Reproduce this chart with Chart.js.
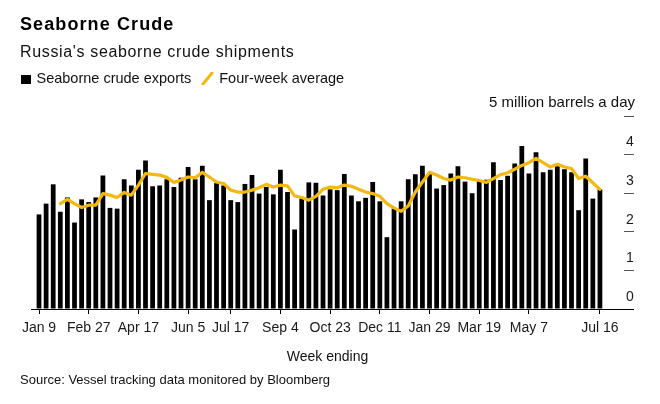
<!DOCTYPE html>
<html>
<head>
<meta charset="utf-8">
<script src="https://cdn.jsdelivr.net/npm/chart.js@4.4.0/dist/chart.umd.min.js"></script>
<style>
body { margin: 0; background: #fff; font-family: "Liberation Sans", Arial, sans-serif; color: #000; }
#wrap { position: relative; width: 660px; height: 404px; overflow: hidden; }
#wrap canvas { position: absolute; left: 0; top: 0; }
.txt { position: absolute; white-space: nowrap; }
#title { left: 20px; top: 15px; font-size: 18px; line-height: 18px; font-weight: bold; letter-spacing: 1.1px; }
#subtitle { left: 20px; top: 44px; font-size: 16px; line-height: 16px; letter-spacing: 0.65px; color: #111; }
#legend { left: 21px; top: 71px; font-size: 14.5px; line-height: 14.5px; color: #111; }
#legend .sq { display: inline-block; width: 9.5px; height: 9.5px; background: #000; margin-right: 6px; vertical-align: -1px; }
#legend svg { vertical-align: -2px; margin: 0 5px 0 10px; }
#unit { right: 25px; top: 94px; font-size: 15px; line-height: 15px; color: #111; }
#source { left: 20px; top: 373px; font-size: 13px; line-height: 13px; color: #111; }
</style>
</head>
<body>
<div id="wrap">
  <canvas id="myChart" width="660" height="404"></canvas>
  <div class="txt" id="title">Seaborne Crude</div>
  <div class="txt" id="subtitle">Russia's seaborne crude shipments</div>
  <div class="txt" id="legend"><span class="sq"></span>Seaborne crude exports<svg width="13" height="13"><line x1="2" y1="12" x2="11" y2="1" stroke="#f4b910" stroke-width="3" stroke-linecap="round"/></svg>Four-week average</div>
  <div class="txt" id="unit">5 million barrels a day</div>
  <div class="txt" id="source">Source: Vessel tracking data monitored by Bloomberg</div>
</div>
<script>
// weeks run from Jan 9 2022 to Jul 16 2023, one bar per week
const tickLabels = ["Jan 9", "Feb 27", "Apr 17", "Jun 5", "Jul 17", "Sep 4", "Oct 23", "Dec 11", "Jan 29", "Mar 19", "May 7", "Jul 16"];
const tickWeeks = [0, 7, 14, 21, 27, 34, 41, 48, 55, 62, 69, 79];

// million barrels a day
const exports = [
  2.45, 2.73, 3.23, 2.52, 2.89, 2.24, 2.84, 2.77, 2.89, 3.46,
  2.62, 2.60, 3.36, 3.20, 3.61, 3.85, 3.18, 3.20, 3.36, 3.16,
  3.40, 3.68, 3.36, 3.71, 2.82, 3.26, 3.20, 2.82, 2.77, 3.24,
  3.47, 2.99, 3.16, 2.97, 3.61, 3.03, 2.06, 2.86, 3.28, 3.27,
  2.94, 3.10, 3.08, 3.50, 2.94, 2.79, 2.88, 3.29, 2.79, 1.86,
  2.60, 2.79, 3.36, 3.49, 3.71, 3.50, 3.12, 3.21, 3.51, 3.70,
  3.30, 3.00, 3.33, 3.35, 3.80, 3.34, 3.45, 3.77, 4.22, 3.51,
  4.06, 3.54, 3.61, 3.70, 3.62, 3.54, 2.56, 3.90, 2.86, 3.10
];
const fourWeekAvg = [
  null, null, null, 2.73, 2.84, 2.73, 2.63, 2.69, 2.69, 2.99,
  2.95, 2.89, 3.02, 2.95, 3.21, 3.51, 3.49, 3.47, 3.41, 3.28,
  3.34, 3.42, 3.40, 3.54, 3.42, 3.29, 3.25, 3.08, 3.03, 3.03,
  3.08, 3.14, 3.23, 3.16, 3.21, 3.19, 2.93, 2.89, 2.82, 2.92,
  3.10, 3.16, 3.14, 3.21, 3.18, 3.10, 3.03, 2.99, 2.92, 2.73,
  2.62, 2.53, 2.67, 3.03, 3.29, 3.54, 3.47, 3.38, 3.34, 3.42,
  3.40, 3.36, 3.33, 3.28, 3.38, 3.48, 3.53, 3.62, 3.72, 3.79,
  3.90, 3.79, 3.68, 3.75, 3.68, 3.64, 3.38, 3.44, 3.27, 3.10
];
const yTicks = [0, 1, 2, 3, 4, 5];

Chart.defaults.font.family = '"Liberation Sans", Arial, sans-serif';
Chart.defaults.color = "#1a1a1a";

const barData = exports.map((v, i) => ({ x: i, y: v }));
const avgData = [];
fourWeekAvg.forEach((v, i) => { if (v != null) avgData.push({ x: i, y: v }); });

const ctx = document.getElementById("myChart");
new Chart(ctx, {
  type: "bar",
  data: {
    datasets: [{
      label: "Four-week average",
      type: "line",
      data: avgData,
      borderColor: "#f4b910",
      borderWidth: 3.2,
      pointRadius: 0,
      borderJoinStyle: "round",
      borderCapStyle: "round",
      tension: 0,
      order: 0
    }, {
      label: "Seaborne crude exports",
      data: barData,
      backgroundColor: "#000",
      barPercentage: 0.67,
      categoryPercentage: 1,
      order: 1
    }]
  },
  options: {
    responsive: false,
    animation: false,
    layout: { padding: { left: 31, right: 0, top: 116, bottom: 38.4 } },
    plugins: { legend: { display: false }, tooltip: { enabled: false } },
    scales: {
      x: {
        type: "linear",
        min: -1.127,
        max: 82.39,
        offset: false,
        afterBuildTicks: (scale) => { scale.ticks = tickWeeks.map(w => ({ value: w })); },
        ticks: {
          autoSkip: false,
          maxRotation: 0,
          padding: 6,
          font: { size: 14 },
          callback: (v) => tickLabels[tickWeeks.indexOf(v)]
        },
        grid: { drawOnChartArea: false, drawTicks: true, tickLength: 5, color: "#000", offset: false },
        border: { display: true, color: "#000", width: 1 },
        title: { display: true, text: "Week ending", font: { size: 14 }, color: "#111", padding: { top: 6, bottom: 0 } }
      },
      y: {
        position: "right",
        min: 0,
        max: 5,
        afterBuildTicks: (scale) => { scale.ticks = yTicks.map(v => ({ value: v })); },
        afterFit: (scale) => { scale.width = 36; },
        ticks: {
          padding: -8,
          labelOffset: -12,
          font: { size: 14 },
          callback: (v) => v === 5 ? "" : v
        },
        grid: {
          drawOnChartArea: false,
          drawTicks: true,
          tickLength: 10,
          color: (c) => c.tick && c.tick.value === 0 ? "#000" : "#555"
        },
        border: { display: false }
      }
    }
  }
});
</script>
</body>
</html>
